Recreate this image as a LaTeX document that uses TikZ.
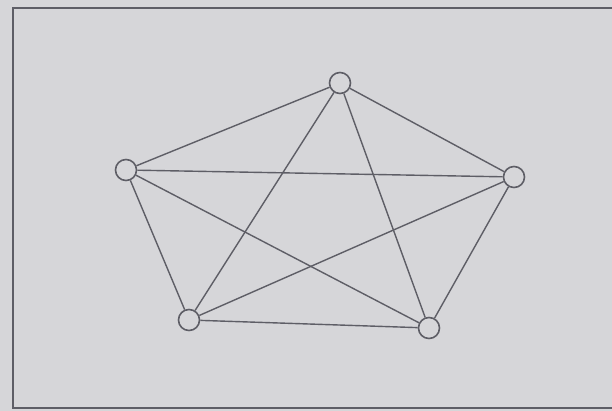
\documentclass[tikz,border=0pt]{standalone}
\definecolor{bg}{HTML}{D6D6D9}
\definecolor{ink}{HTML}{5E5E66}
\begin{document}
\begin{tikzpicture}[x=1pt,y=-1pt,
  vert/.style={circle,draw=ink,line width=1.6pt,fill=bg,minimum size=21pt,inner sep=0pt},
  edge/.style={draw=ink,line width=1.4pt}]
\useasboundingbox (0,0) rectangle (612,411);
\fill[bg] (0,0) rectangle (612,411);
\draw[ink,line width=1.8pt] (618,8) -- (13,8) -- (13,408) -- (618,408);
\node[vert] (t) at (340,83) {};
\node[vert] (l) at (126,170) {};
\node[vert] (r) at (514,177) {};
\node[vert] (bl) at (189,320) {};
\node[vert] (br) at (429,328) {};
\foreach \a/\b in {t/l,t/r,t/bl,t/br,l/r,l/bl,l/br,r/bl,r/br,bl/br}
  \draw[edge] (\a) -- (\b);
\end{tikzpicture}
\end{document}
